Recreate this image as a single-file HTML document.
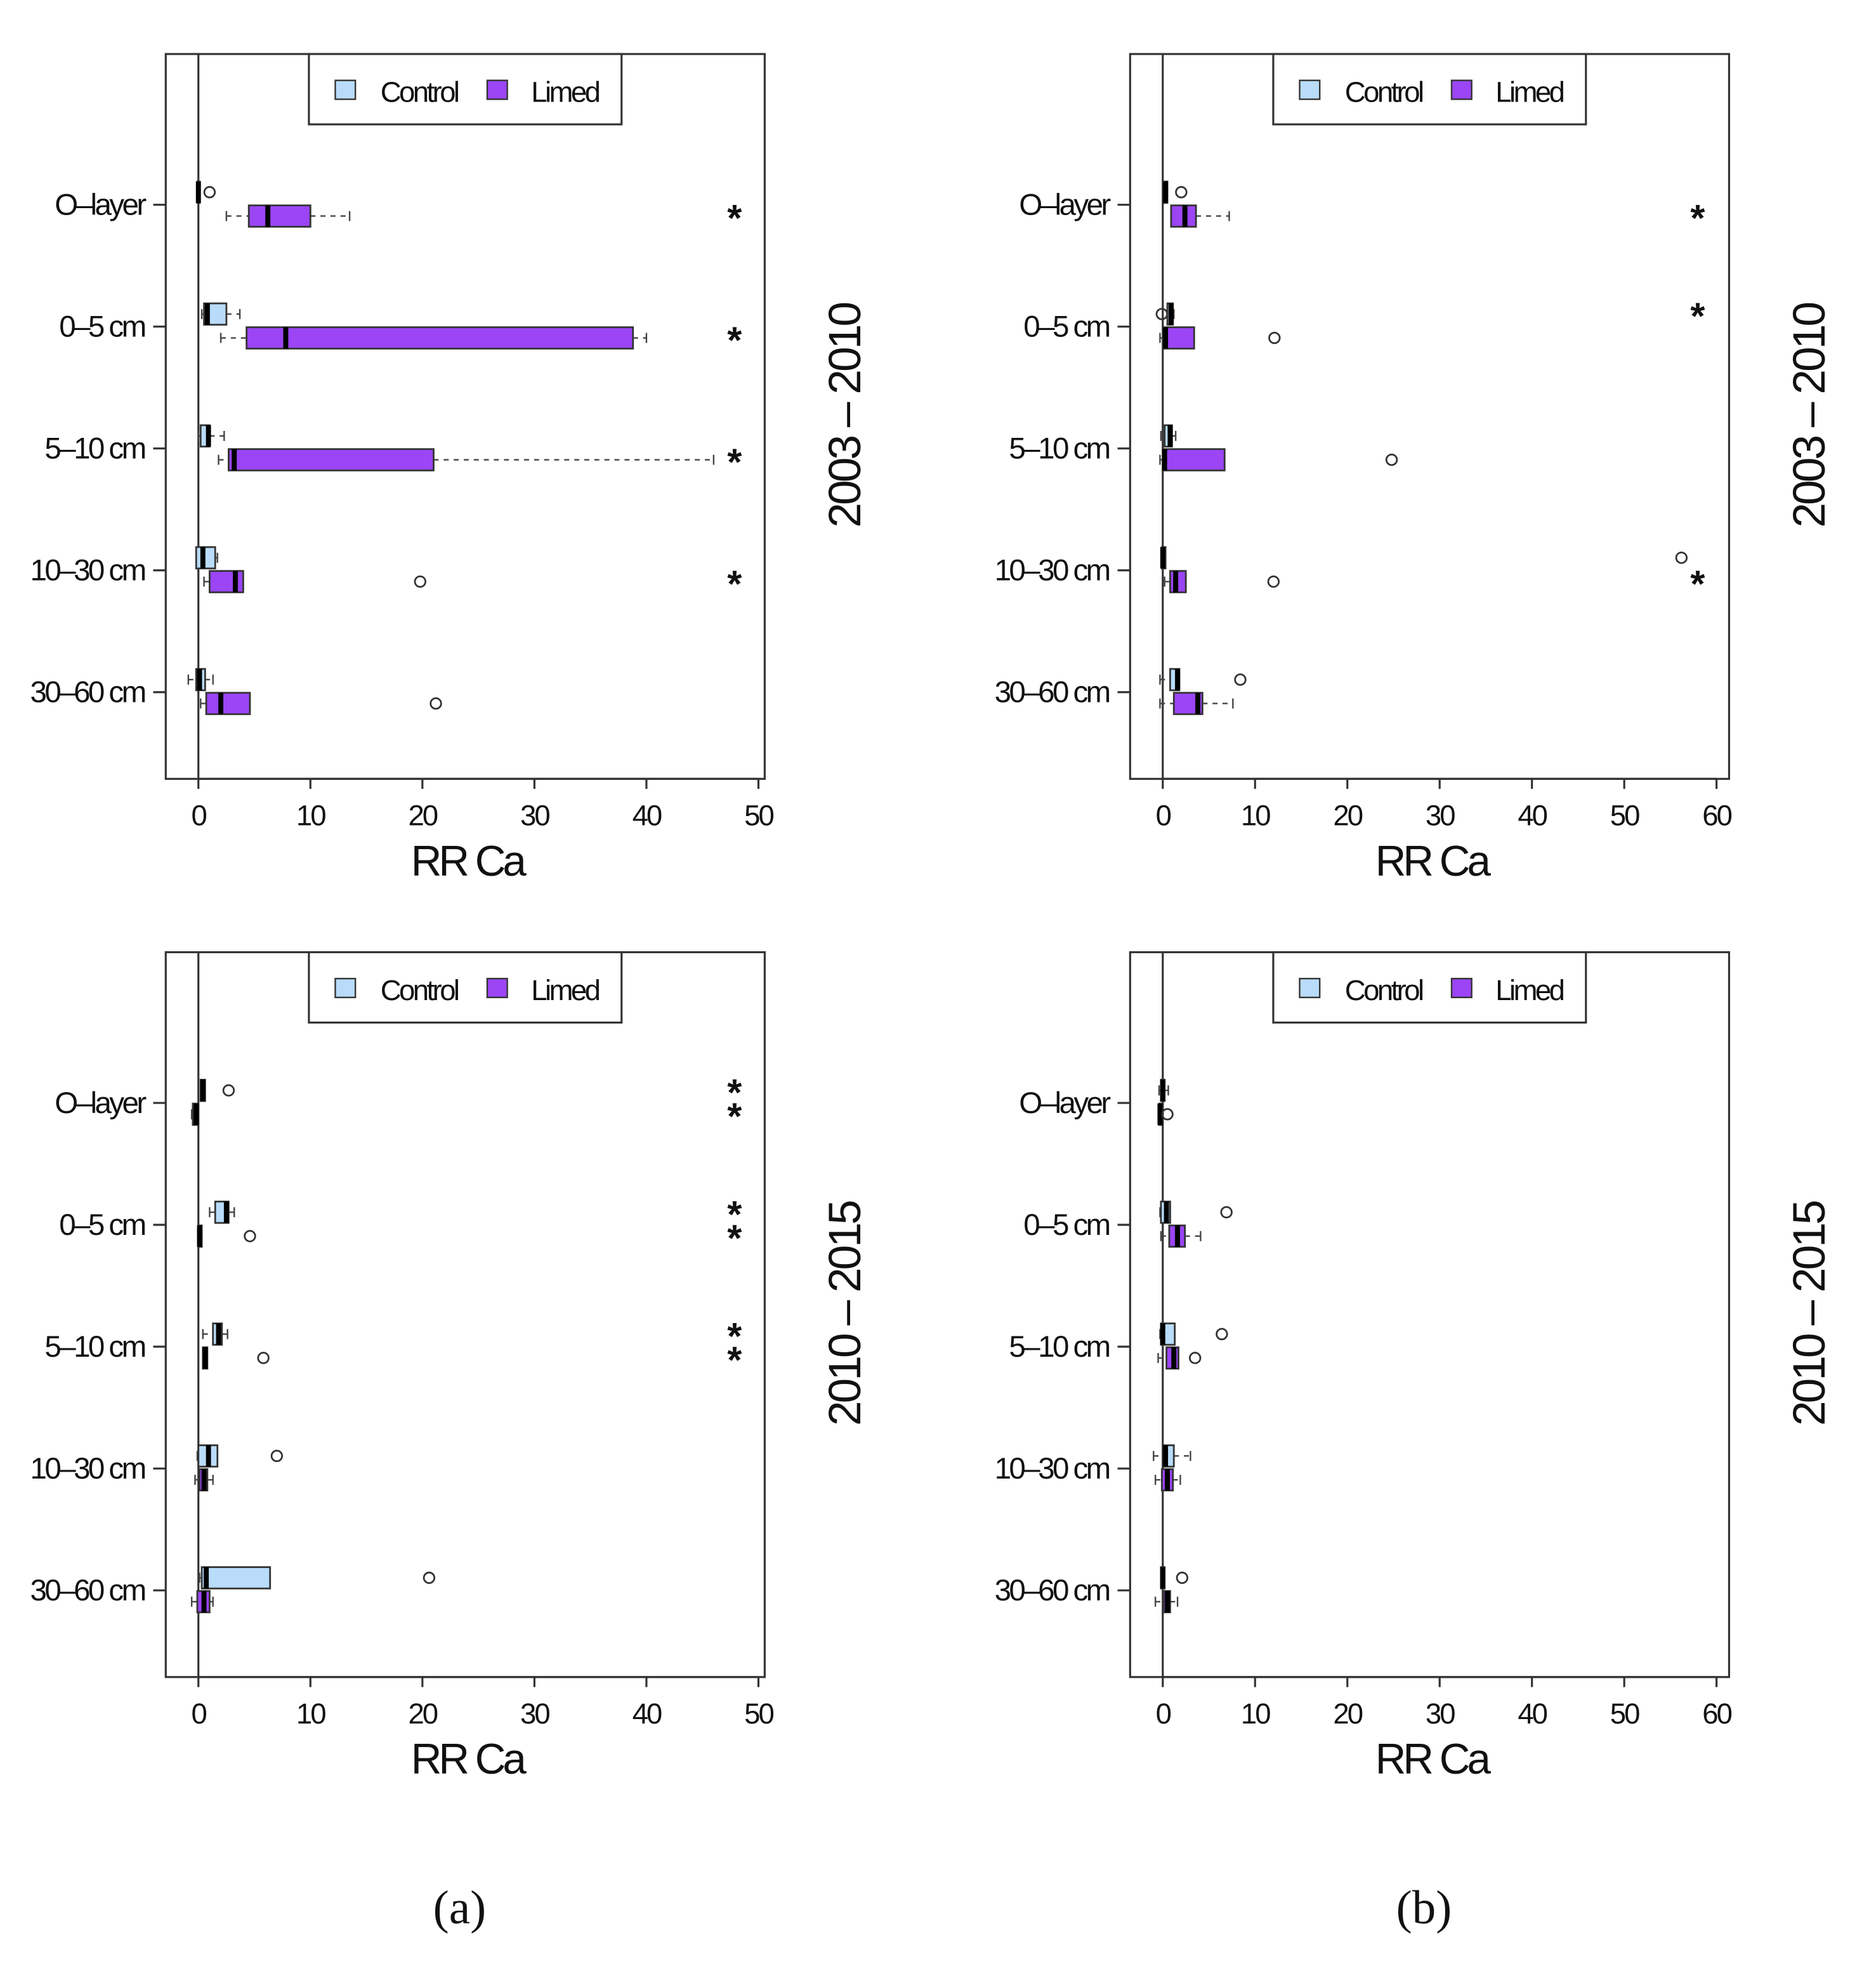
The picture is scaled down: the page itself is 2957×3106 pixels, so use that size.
<!DOCTYPE html>
<html><head><meta charset="utf-8"><style>
html,body{margin:0;padding:0;background:#fff;}
svg{display:block;}
text{font-family:"Liberation Sans",sans-serif;fill:#111;}
</style></head><body>
<svg id="fig" width="2957" height="3106" viewBox="0 0 1494 1569" preserveAspectRatio="none" xmlns="http://www.w3.org/2000/svg">
<text x="366" y="1531" style="font-family:'Liberation Serif',serif" font-size="38" text-anchor="middle">(a)</text>
<text x="1134" y="1531" style="font-family:'Liberation Serif',serif" font-size="38" text-anchor="middle">(b)</text>
</svg>
<script>
const categories = ["O\u2013layer","0\u20135 cm","5\u201310 cm","10\u201330 cm","30\u201360 cm"];
const ticksA = [0,10,20,30,40,50];
const ticksB = [0,10,20,30,40,50,60];
// each box: [whiskerLow, q1, median, q3, whiskerHigh]
const a1Control = [[-0.1,-0.1,0,0.1,0.1],[0.3,0.5,0.8,2.5,3.7],[0,0.2,0.9,1,2.3],[-0.2,-0.2,0.4,1.5,1.7],[-0.9,-0.2,0.1,0.6,1.3]];
const a1Limed = [[2.5,4.5,6.2,10,13.5],[2,4.3,7.8,38.8,40],[1.8,2.7,3.2,21,46],[0.5,1,3.3,4,4],[0.2,0.7,2,4.6,4.6]];
const a1ControlOut = [[1],[],[],[],[]];
const a1LimedOut = [[],[],[],[19.8],[21.2]];
const a1Stars = [[0,1],[0,1],[0,1],[0,1],[0,0]];
const b1Control = [[0.1,0.1,0.3,0.5,0.5],[0.5,0.5,0.9,1.1,1.2],[-0.2,0.2,0.8,1,1.4],[-0.1,-0.1,0,0.3,0.3],[-0.3,0.8,1.6,1.8,1.8]];
const b1Limed = [[0.9,0.9,2.4,3.6,7.2],[-0.3,0.2,0.3,3.4,3.4],[-0.3,0.1,0.2,6.7,6.7],[0.2,0.8,1.4,2.5,2.5],[-0.3,1.2,3.8,4.3,7.6]];
const b1ControlOut = [[2],[-0.1],[],[56.2],[8.4]];
const b1LimedOut = [[],[12.1],[24.8],[12],[]];
const b1Stars = [[0,1],[1,0],[0,0],[0,1],[0,0]];
const a2Control = [[0.2,0.2,0.4,0.6,0.6],[1,1.5,2.5,2.7,3.2],[0.4,1.3,1.8,2.1,2.6],[-0.1,0,0.9,1.7,1.7],[0.1,0.3,0.7,6.4,6.4]];
const a2Limed = [[-0.6,-0.5,-0.2,0,0],[0,0,0.1,0.3,0.3],[0.4,0.4,0.6,0.8,0.8],[-0.3,0.1,0.5,0.8,1.3],[-0.6,-0.1,0.5,1,1.3]];
const a2ControlOut = [[2.7],[],[],[7],[20.6]];
const a2LimedOut = [[],[4.6],[5.8],[],[]];
const a2Stars = [[1,1],[1,1],[1,1],[0,0],[0,0]];
const b2Control = [[-0.4,-0.2,0,0.2,0.6],[-0.3,-0.2,0.4,0.8,0.8],[-0.3,-0.2,0,1.3,1.3],[-1,0,0.3,1.2,3],[-0.2,-0.2,0,0.2,0.2]];
const b2Limed = [[-0.4,-0.4,-0.3,0,0],[-0.2,0.7,1.6,2.4,4.1],[-0.5,0.4,1.2,1.7,1.7],[-0.8,-0.1,0.5,1.1,1.9],[-0.8,0.1,0.5,0.8,1.6]];
const b2ControlOut = [[],[6.9],[6.4],[],[2.1]];
const b2LimedOut = [[0.5],[],[3.5],[],[]];
const b2Stars = [[0,0],[0,0],[0,0],[0,0],[0,0]];

const NS="http://www.w3.org/2000/svg";
const svg=document.getElementById('fig');
function mk(tag,attrs,parent){const e=document.createElementNS(NS,tag);for(const k in attrs)e.setAttribute(k,attrs[k]);(parent||svg).appendChild(e);return e;}

function panel(id,left,top,x0px,pxPerUnit,ticks,ctrl,lim,ctrlOut,limOut,stars,yearLabel,starX){
  const g=mk('g',{});
  
  
  const W=477,H=577,right=left+W,bottom=top+H;
  const xs=v=>x0px+v*pxPerUnit;
  const rowY=i=>top+120+i*97;
  const frame=mk('rect',{x:left,y:top,width:W,height:H,fill:'none',stroke:'#333','stroke-width':1.6},g);
  
  
  const zl=mk('line',{x1:xs(0),x2:xs(0),y1:top,y2:bottom,stroke:'#333','stroke-width':1.6},g);
  
  
  const ax=mk('line',{x1:xs(ticks[0]),x2:xs(ticks[ticks.length-1]),y1:bottom,y2:bottom,stroke:'#333','stroke-width':1.6},g);
  
  
  ticks.forEach(t=>{
    mk('line',{x1:xs(t),x2:xs(t),y1:bottom,y2:bottom+8,stroke:'#333','stroke-width':1.6},g);
    const tl=mk('text',{x:xs(t),y:bottom+37,'font-size':23,'text-anchor':'middle','letter-spacing':'-1.5'},g);
    tl.textContent=t;
    
    
  });
  const xt=mk('text',{x:left+240,y:bottom+77,'font-size':34,'text-anchor':'middle','letter-spacing':'-2.5'},g);
  xt.textContent='RR Ca';
  
  
  categories.forEach((c,i)=>{
    const y=rowY(i);
    mk('line',{x1:left,x2:left-10,y1:y,y2:y,stroke:'#333','stroke-width':1.6},g);
    const cl=mk('text',{x:left-17,y:y+8,'font-size':24,'text-anchor':'end','letter-spacing':'-1.8'},g);
    cl.textContent=c;
    
    
    [[ctrl,ctrlOut,'#b9dcfa',-10,'control'],[lim,limOut,'#9b45f5',9,'limed']].forEach(([d,outs,col,off,nm],si)=>{
      const b=d[i],cy=y+off,h=17;
      const gw=mk('line',{x1:xs(b[0]),x2:xs(b[1]),y1:cy,y2:cy,stroke:'#444','stroke-width':1.2,'stroke-dasharray':'4,4'},g);
      
      
      const gw2=mk('line',{x1:xs(b[3]),x2:xs(b[4]),y1:cy,y2:cy,stroke:'#444','stroke-width':1.2,'stroke-dasharray':'4,4'},g);
      
      
      [b[0],b[4]].forEach(v=>mk('line',{x1:xs(v),x2:xs(v),y1:cy-4,y2:cy+4,stroke:'#444','stroke-width':1.2},g));
      const bx=mk('rect',{x:xs(b[1]),y:cy-h/2,width:Math.max(2,xs(b[3])-xs(b[1])),height:h,fill:col,stroke:'#333','stroke-width':1.4},g);
      
      
      const md=mk('line',{x1:xs(b[2]),x2:xs(b[2]),y1:cy-h/2,y2:cy+h/2,stroke:'#000','stroke-width':4},g);
      
      
      outs[i].forEach(v=>{
        const o=mk('circle',{cx:xs(v),cy:cy,r:4.2,fill:'none',stroke:'#333','stroke-width':1.4},g);
        
        
      });
      if(stars[i][si]){
        const s=mk('text',{x:starX,y:cy+12,'font-size':30,'font-weight':'bold','text-anchor':'middle'},g);
        s.textContent='*';
        
        
      }
    });
  });
  const lg=mk('g',{},g);
  
  
  const lx=left+114;
  mk('rect',{x:lx,y:top,width:249,height:56,fill:'#fff',stroke:'#333','stroke-width':1.6},lg);
  const e1=mk('rect',{x:lx+21,y:top+21,width:16,height:15,fill:'#b9dcfa',stroke:'#333','stroke-width':1.2},lg);
  
  
  const t1=mk('text',{x:lx+57,y:top+38,'font-size':23,'letter-spacing':'-1.8'},lg);t1.textContent='Control';
  
  
  const e2=mk('rect',{x:lx+142,y:top+21,width:16,height:15,fill:'#9b45f5',stroke:'#333','stroke-width':1.2},lg);
  
  
  const t2=mk('text',{x:lx+177,y:top+38,'font-size':23,'letter-spacing':'-1.8'},lg);t2.textContent='Limed';
  
  
  const yl=mk('text',{x:0,y:0,'font-size':36,'text-anchor':'middle','letter-spacing':'-2',transform:`translate(${right+76},${top+288}) rotate(-90)`},g);
  yl.textContent=yearLabel;
  
  
}
panel('a1',132,43,158,8.92,ticksA,a1Control,a1Limed,a1ControlOut,a1LimedOut,a1Stars,'2003 \u2013 2010',585);
panel('b1',900,43,926,7.35,ticksB,b1Control,b1Limed,b1ControlOut,b1LimedOut,b1Stars,'2003 \u2013 2010',1352);
panel('a2',132,758,158,8.92,ticksA,a2Control,a2Limed,a2ControlOut,a2LimedOut,a2Stars,'2010 \u2013 2015',585);
panel('b2',900,758,926,7.35,ticksB,b2Control,b2Limed,b2ControlOut,b2LimedOut,b2Stars,'2010 \u2013 2015',1352);
</script>
</body></html>
